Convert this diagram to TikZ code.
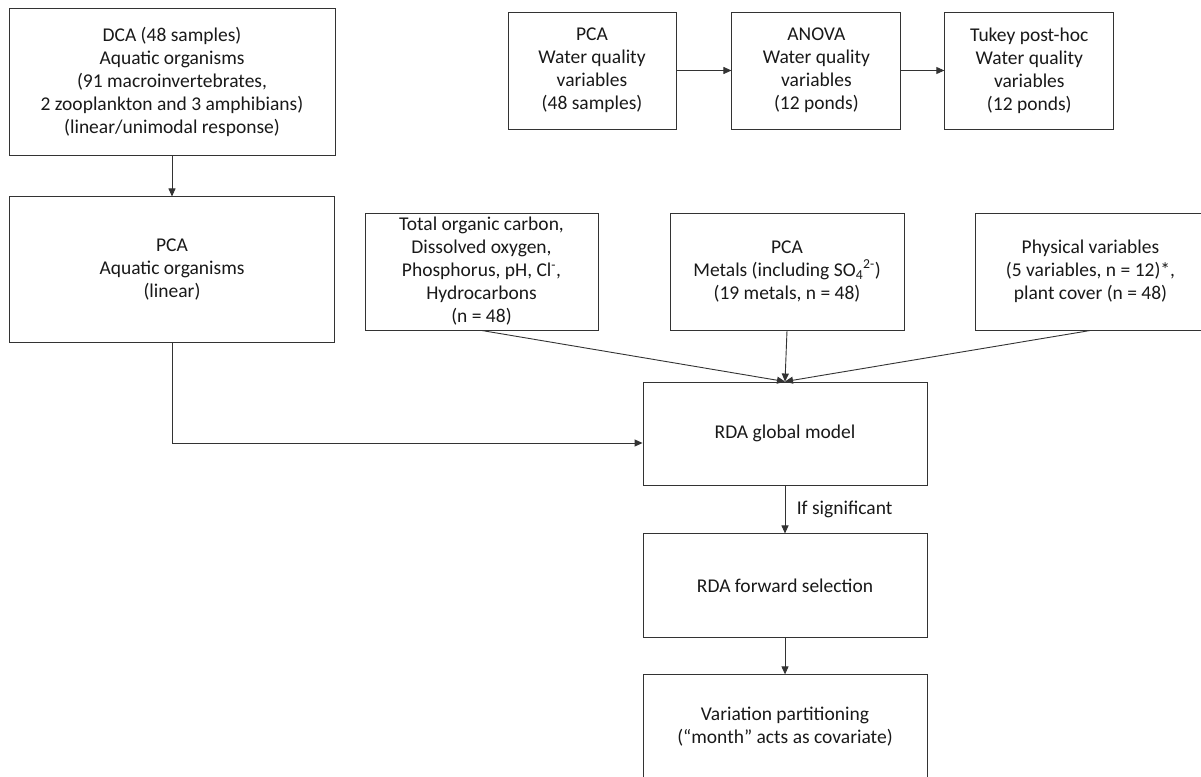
\documentclass[tikz,border=0pt]{standalone}
\usepackage{fontspec}
\setmainfont{Carlito}
\usepackage{tikz}
\usetikzlibrary{shapes,arrows.meta,positioning,calc}

\begin{document}
\begin{tikzpicture}[
    x=1pt, y=-1pt,
    node distance=40pt and 50pt,
    box/.style={rectangle, draw=black!80, line width=0.9pt, align=center, inner sep=2pt, font=\fontsize{19.5}{23}\selectfont, text=black!90},
    arr/.style={-{Triangle[length=8pt, width=7pt]}, line width=0.9pt, draw=black!80}
]
    \useasboundingbox (0,0) rectangle (1201,776);
    \fill [white] (0,0) rectangle (1201,776);

    % left column
    \node [box, minimum width=326pt, minimum height=147pt] (dca) at (172,81.5) {DCA (48 samples)\\Aquatic organisms\\(91 macroinvertebrates,\\2 zooplankton and 3 amphibians)\\(linear/unimodal response)};
    \node [box, minimum width=325pt, minimum height=146pt, below=41pt of dca] (pcaorg) {PCA\\Aquatic organisms\\(linear)};

    % water quality row
    \node [box, minimum width=168pt, minimum height=117pt] (pcawq) at (592,70.5) {PCA\\Water quality\\variables\\(48 samples)};
    \node [box, minimum width=169pt, minimum height=117pt, right=55pt of pcawq] (anova) {ANOVA\\Water quality\\variables\\(12 ponds)};
    \node [box, minimum width=169pt, minimum height=117pt, right=43pt of anova] (tukey) {Tukey post-hoc\\Water quality\\variables\\(12 ponds)};

    % explanatory variables
    \node [box, minimum width=233pt, minimum height=117pt] (toc) at (481.5,271.5) {Total organic carbon,\\Dissolved oxygen,\\Phosphorus, pH, Cl\textsuperscript{-},\\Hydrocarbons\\(n = 48)};
    \node [box, minimum width=234pt, minimum height=117pt] (metals) at (787,271.5) {PCA\\Metals (including SO\textsubscript{4}\textsuperscript{2-})\\(19 metals, n = 48)};
    \node [box, minimum width=231pt, minimum height=117pt] (phys) at (1090.5,271.5) {Physical variables\\(5 variables, n = 12)*,\\plant cover (n = 48)};

    % RDA chain
    \node [box, minimum width=284pt, minimum height=103pt] (rdag) at (785,433.5) {RDA global model};
    \node [box, minimum width=284pt, minimum height=104pt, below=48pt of rdag] (fwd) {RDA forward selection};
    \node [box, minimum width=284pt, minimum height=104pt, below=36pt of fwd] (varp) {Variation partitioning\\(“month” acts as covariate)};

    \draw [arr] (dca) -- (pcaorg);
    \draw [arr] (pcawq) -- (anova);
    \draw [arr] (anova) -- (tukey);
    \draw [arr] (pcaorg.south) |- ([yshift=-9.5pt]rdag.west);
    \draw [arr] (toc.south) -- (rdag.north);
    \draw [arr] (metals.south) -- (rdag.north);
    \draw [arr] (phys.south) -- (rdag.north);
    \draw [arr] (rdag) -- node [right=8pt, font=\fontsize{19.5}{23}\selectfont, text=black!90] {If significant} (fwd);
    \draw [arr] (fwd) -- (varp);
\end{tikzpicture}
\end{document}
